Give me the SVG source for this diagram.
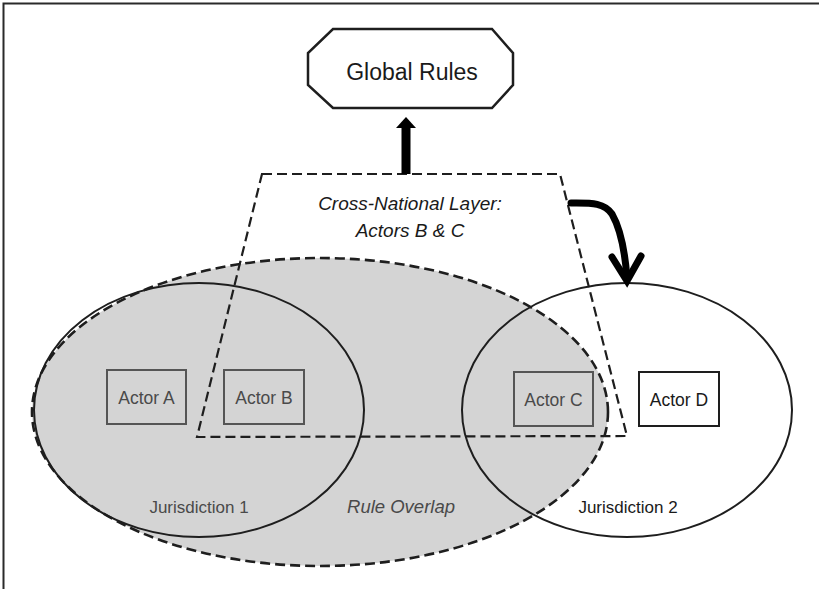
<svg xmlns="http://www.w3.org/2000/svg" width="819" height="589" viewBox="0 0 819 589">
<defs>
<style>
text{font-family:"Liberation Sans",Arial,sans-serif;text-anchor:middle}
.solid{fill:none;stroke:#1e1e1e;stroke-width:2}
.dash{fill:none;stroke:#1e1e1e;stroke-width:2.2;stroke-dasharray:10 5}
.boxg{fill:none;stroke:#555;stroke-width:2}
.boxw{fill:#fff;stroke:#1e1e1e;stroke-width:2}
.tg{font-size:17.5px;fill:#4a4a4a}
.tk{font-size:17.5px;fill:#1a1a1a}
.it{font-style:italic}
</style>
</defs>
<rect x="0" y="0" width="819" height="589" fill="#fff"/>
<g id="frame">
<path d="M3.5,589 V3.5 H819" fill="none" stroke="#2a2a2a" stroke-width="2"/>
</g>
<g id="rule-overlap">
<ellipse cx="320" cy="412" rx="288" ry="154" fill="#d4d4d4" stroke="#1e1e1e" stroke-width="2.6" stroke-dasharray="10 5"/>
<text x="401" y="513" class="tg it" style="font-size:18.5px">Rule Overlap</text>
</g>
<g id="jurisdiction-1">
<ellipse cx="199" cy="410" rx="165" ry="127" class="solid"/>
<text x="199" y="513" class="tg" style="font-size:17px">Jurisdiction 1</text>
</g>
<g id="jurisdiction-2">
<ellipse cx="627" cy="410" rx="165" ry="127" class="solid"/>
<text x="628" y="513" class="tk" style="font-size:17px">Jurisdiction 2</text>
</g>
<g id="cross-national-layer">
<polygon points="262,174 560,174 627,436 197,437" class="dash"/>
<text x="410" y="210" class="tk it" style="font-size:19px">Cross-National Layer:</text>
<text x="410" y="237" class="tk it" style="font-size:19px">Actors B &amp; C</text>
</g>
<g id="global-rules">
<polygon points="333,29 492,29 513,53 513,85 492,108 333,108 308,85 308,53" fill="#fff" stroke="#1e1e1e" stroke-width="2.5"/>
<text x="412" y="80" class="tk" style="font-size:23px">Global Rules</text>
</g>
<g id="actor-a">
<rect x="107" y="370" width="79" height="54" class="boxg"/>
<text x="146.5" y="404" class="tg">Actor A</text>
</g>
<g id="actor-b">
<rect x="224" y="370" width="80" height="54" class="boxg"/>
<text x="264" y="404" class="tg">Actor B</text>
</g>
<g id="actor-c">
<rect x="514" y="372" width="79" height="54" class="boxg"/>
<text x="553.5" y="406" class="tg">Actor C</text>
</g>
<g id="actor-d">
<rect x="639" y="372" width="80" height="54" class="boxw"/>
<text x="679" y="406" class="tk">Actor D</text>
</g>
<g id="connectors">
<rect x="401.5" y="126" width="9" height="48" fill="#000"/>
<polygon points="396,128 406,117 416,128" fill="#000"/>
<path d="M571,203 C590,203 604,202 612,214 C620,228 625,252 627,278" fill="none" stroke="#000" stroke-width="7" stroke-linecap="round"/>
<polyline points="612,257 627,281 641,256" fill="none" stroke="#000" stroke-width="7" stroke-linecap="round" stroke-linejoin="miter"/>
</g>
</svg>
